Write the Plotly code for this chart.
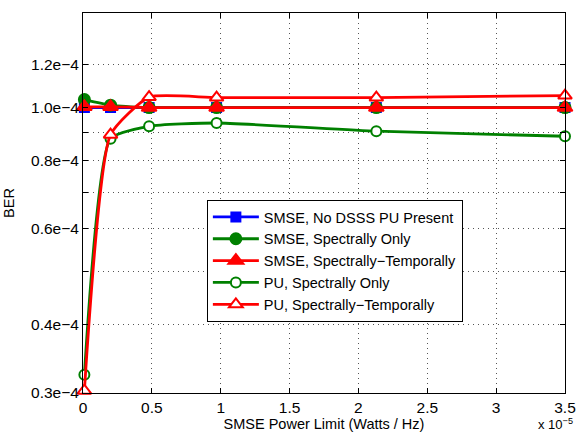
import plotly.graph_objects as go

# Data (x in Watts/Hz, BER)
power_limit = [0.01e-5, 0.2e-5, 0.48e-5, 0.97e-5, 2.13e-5, 3.5e-5]
smse_no_pu = [1.0e-4, 1.0e-4, 1.0e-4, 1.0e-4, 1.0e-4, 1.0e-4]
smse_spec = [1.034e-4, 1.01e-4, 1.0e-4, 1.0e-4, 1.0e-4, 1.0e-4]
smse_spec_temp = [1.003e-4, 1.003e-4, 1.0e-4, 1.0e-4, 1.0e-4, 1.0e-4]
pu_spec = [0.324e-4, 0.877e-4, 0.924e-4, 0.937e-4, 0.905e-4, 0.886e-4]
pu_spec_temp = [0.303e-4, 0.892e-4, 1.045e-4, 1.043e-4, 1.043e-4, 1.052e-4]

series_names = ["SMSE, No DSSS PU Present", "SMSE, Spectrally Only",
                "SMSE, Spectrally\u2212Temporally", "PU, Spectrally Only",
                "PU, Spectrally\u2212Temporally"]

x_tick_labels = ["0", "0.5", "1", "1.5", "2", "2.5", "3", "3.5"]
y_tick_vals = [0.3e-4, 0.4e-4, 0.5e-4, 0.6e-4, 0.7e-4, 0.8e-4, 0.9e-4, 1.0e-4, 1.2e-4]
y_tick_text = ["0.3e\u22124", "0.4e\u22124", "", "0.6e\u22124", "", "0.8e\u22124", "",
               "1.0e\u22124", "1.2e\u22124"]

FONT = "Liberation Sans, Arial, Helvetica, sans-serif"

fig = go.Figure()

styles = [
    dict(color="#0000ff", symbol="square", size=9, fill="#0000ff"),
    dict(color="#008000", symbol="circle", size=11, fill="#008000"),
    dict(color="#ff0000", symbol="triangle-up", size=13, fill="#ff0000"),
    dict(color="#008000", symbol="circle", size=10, fill="#ffffff"),
    dict(color="#ff0000", symbol="triangle-up", size=12, fill="#ffffff"),
]
data = [smse_no_pu, smse_spec, smse_spec_temp, pu_spec, pu_spec_temp]

for name, ys, st in zip(series_names, data, styles):
    fig.add_trace(go.Scatter(
        x=power_limit, y=ys, name=name, mode="lines+markers",
        line=dict(color=st["color"], width=2.8, shape="spline", smoothing=0.5),
        marker=dict(symbol=st["symbol"], size=st["size"], color=st["fill"],
                    line=dict(color=st["color"], width=2)),
        cliponaxis=False,
    ))

fig.update_layout(
    width=576, height=434,
    margin=dict(l=83, r=11, t=13, b=41, autoexpand=False),
    paper_bgcolor="white", plot_bgcolor="white",
    font=dict(family=FONT, size=15, color="black"),
    showlegend=True,
    legend=dict(x=0.257, y=0.508, xanchor="left", yanchor="top",
                bgcolor="white", bordercolor="black", borderwidth=1,
                font=dict(size=14.5), tracegroupgap=0, itemwidth=46),
)

grid_style = dict(showgrid=True, gridcolor="#555555", griddash="1px,4px", gridwidth=1)

fig.update_xaxes(
    range=[0, 3.5e-5],
    tickvals=[float(t) * 1e-5 for t in x_tick_labels],
    ticktext=x_tick_labels,
    automargin=False,
    showline=True, linecolor="black", linewidth=1, mirror="ticks",
    ticks="inside", ticklen=5, tickcolor="black",
    zeroline=False,
    tickfont=dict(size=15.5),
    title=dict(text="SMSE Power Limit (Watts / Hz)", standoff=2, font=dict(size=14.5)),
    **grid_style,
)
fig.update_yaxes(
    type="log",
    range=[-4.5229, -3.8268],
    tickvals=y_tick_vals, ticktext=y_tick_text,
    automargin=False,
    showline=True, linecolor="black", linewidth=1, mirror="ticks",
    ticks="inside", ticklen=5, tickcolor="black",
    zeroline=False,
    tickfont=dict(size=15.5),
    title=dict(text="BER", standoff=12, font=dict(size=14.5)),
    **grid_style,
)

fig.add_annotation(
    x=1.0, y=0, xref="paper", yref="paper", xanchor="right", yanchor="bottom",
    yshift=-41, xshift=10, showarrow=False,
    text="x 10<sup>\u22125</sup>", font=dict(size=13, family=FONT),
)

fig.write_html("out.html")
